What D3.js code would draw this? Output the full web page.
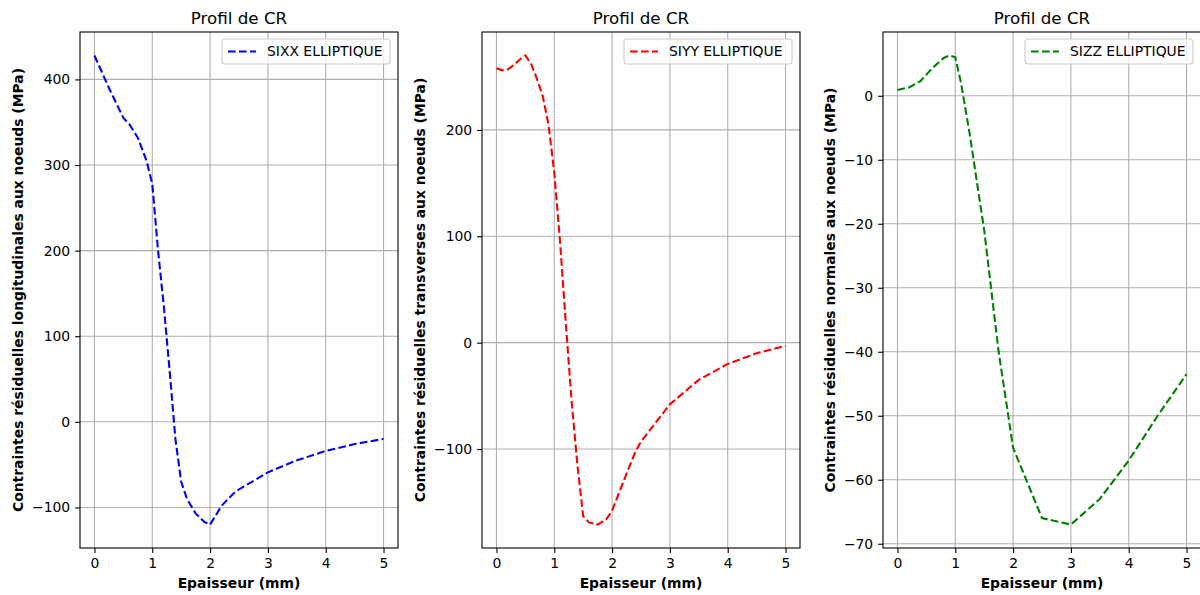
<!DOCTYPE html>
<html>
<head>
<meta charset="utf-8">
<script src="https://cdn.jsdelivr.net/npm/d3@7"></script>
<style>
  body { margin: 0; background: #fff; }
  svg { font-family: "DejaVu Sans", sans-serif; }
</style>
</head>
<body>
<svg width="1200" height="595"></svg>
<script>
// thickness (mm) and stress values (MPa)
var xxThick = [0, 0.25, 0.5, 0.6, 0.75, 0.9, 1.0, 1.1, 1.2, 1.3, 1.4, 1.5, 1.6, 1.75, 1.9, 2.0, 2.2, 2.4, 2.5, 3.0, 3.5, 4.0, 4.5, 5.0];
var sixx = [428, 390, 355, 348, 332, 305, 278, 200, 135, 60, -20, -70, -90, -107, -117, -120, -98, -84, -79, -59, -45, -34, -26, -20];

var yyThick = [0, 0.1, 0.2, 0.3, 0.4, 0.5, 0.6, 0.7, 0.8, 0.9, 1.0, 1.1, 1.2, 1.3, 1.4, 1.5, 1.6, 1.75, 1.9, 2.0, 2.2, 2.4, 2.5, 3.0, 3.5, 4.0, 4.5, 5.0];
var siyy = [258, 256, 257, 261, 266, 270, 262, 248, 232, 205, 160, 95, 18, -55, -115, -163, -169, -171, -166, -158, -130, -103, -93, -58, -35, -20, -10, -3];

var zzThick = [0, 0.2, 0.4, 0.6, 0.8, 0.9, 1.0, 1.1, 1.25, 1.5, 1.75, 2.0, 2.5, 3.0, 3.5, 4.0, 4.5, 5.0];
var sizz = [0.9, 1.3, 2.3, 4.3, 5.9, 6.3, 6.0, 2.0, -6, -21, -40, -55, -66, -67, -63, -57, -50, -43.5];

var xTicks = [0, 1, 2, 3, 4, 5];
var xxTicks = [-100, 0, 100, 200, 300, 400];
var yyTicks = [-100, 0, 100, 200];
var zzTicks = [-70, -60, -50, -40, -30, -20, -10, 0];

var svg = d3.select("svg");
var top_ = 32, bottom = 548;

function drawPanel(left, right, xs, ys, yTicks, color, legendText, yLabel, yLabelX) {
    var x = d3.scaleLinear().domain([-0.25, 5.25]).range([left, right]);
    var yMin = d3.min(ys), yMax = d3.max(ys), pad = (yMax - yMin) * 0.05;
    var y = d3.scaleLinear().domain([yMin - pad, yMax + pad]).range([bottom, top_]);

    var g = svg.append("g");

    // grid
    g.selectAll(".vg").data(xTicks).enter().append("line")
        .attr("x1", d => x(d)).attr("x2", d => x(d))
        .attr("y1", top_).attr("y2", bottom)
        .attr("stroke", "#b0b0b0").attr("stroke-width", 1.1);
    g.selectAll(".hg").data(yTicks).enter().append("line")
        .attr("x1", left).attr("x2", right)
        .attr("y1", d => y(d)).attr("y2", d => y(d))
        .attr("stroke", "#b0b0b0").attr("stroke-width", 1.1);

    // axes
    var fmt = d => d < 0 ? "\u2212" + Math.abs(d) : "" + d;
    var ax = g.append("g")
        .attr("transform", "translate(0," + bottom + ")")
        .call(d3.axisBottom(x).tickValues(xTicks).tickSize(4.9).tickPadding(4.9).tickFormat(fmt));
    var ay = g.append("g")
        .attr("transform", "translate(" + left + ",0)")
        .call(d3.axisLeft(y).tickValues(yTicks).tickSize(4.9).tickPadding(4.9).tickFormat(fmt));
    [ax, ay].forEach(function (a) {
        a.select(".domain").remove();
        a.selectAll("line").attr("stroke", "#000").attr("stroke-width", 1.1);
        a.selectAll("text").attr("font-size", "13.9px").attr("fill", "#000")
            .attr("font-family", "DejaVu Sans");
    });

    // the line
    var line = d3.line().x((d, i) => x(xs[i])).y(d => y(d));
    g.append("path").datum(ys)
        .attr("d", line)
        .attr("fill", "none")
        .attr("stroke", color)
        .attr("stroke-width", 2.1)
        .attr("stroke-dasharray", "7.7,3.3");

    // frame
    g.append("rect")
        .attr("x", left).attr("y", top_)
        .attr("width", right - left).attr("height", bottom - top_)
        .attr("fill", "none").attr("stroke", "#000").attr("stroke-width", 1.1);

    // title
    g.append("text")
        .attr("x", (left + right) / 2).attr("y", 24)
        .attr("text-anchor", "middle")
        .attr("font-size", "16.7px")
        .text("Profil de CR");

    // x label
    g.append("text")
        .attr("x", (left + right) / 2).attr("y", 588)
        .attr("text-anchor", "middle")
        .attr("font-size", "13.9px").attr("font-weight", "bold")
        .text("Epaisseur (mm)");

    // y label
    g.append("text")
        .attr("transform", "translate(" + yLabelX + "," + (top_ + bottom) / 2 + ") rotate(-90)")
        .attr("text-anchor", "middle")
        .attr("dy", "0.35em")
        .attr("font-size", "13.9px").attr("font-weight", "bold")
        .text(yLabel);

    // legend
    var lw = 168, lx = right - 8 - lw, ly = top_ + 7;
    g.append("rect")
        .attr("x", lx).attr("y", ly).attr("width", lw).attr("height", 25)
        .attr("rx", 3)
        .attr("fill", "#fff").attr("fill-opacity", 0.8)
        .attr("stroke", "#cccccc").attr("stroke-width", 1.1);
    g.append("line")
        .attr("x1", lx + 6).attr("x2", lx + 34)
        .attr("y1", ly + 12.5).attr("y2", ly + 12.5)
        .attr("stroke", color).attr("stroke-width", 2.1)
        .attr("stroke-dasharray", "7.7,3.3");
    g.append("text")
        .attr("x", lx + 45).attr("y", ly + 12.5)
        .attr("dy", "0.35em")
        .attr("font-size", "13.9px")
        .text(legendText);
}

drawPanel(80, 398, xxThick, sixx, xxTicks, "#0000ff", "SIXX ELLIPTIQUE",
    "Contraintes résiduelles longitudinales aux noeuds (MPa)", 18);
drawPanel(482, 800, yyThick, siyy, yyTicks, "#ff0000", "SIYY ELLIPTIQUE",
    "Contraintes résiduelles transverses aux noeuds (MPa)", 420);
drawPanel(883, 1201, zzThick, sizz, zzTicks, "#008000", "SIZZ ELLIPTIQUE",
    "Contraintes résiduelles normales aux noeuds (MPa)", 830.5);
</script>
</body>
</html>
